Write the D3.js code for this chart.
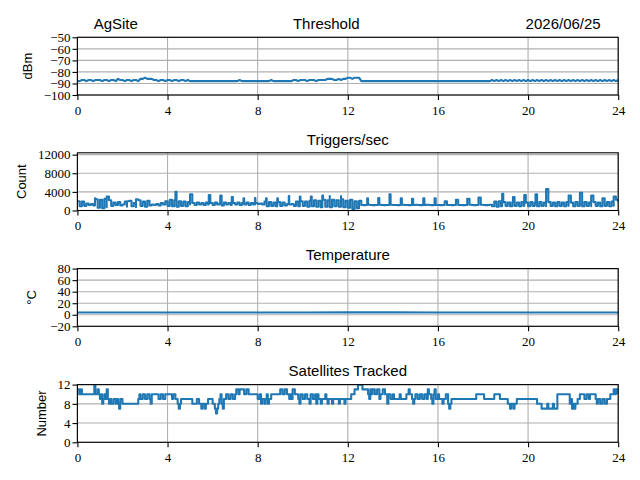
<!DOCTYPE html>
<html>
<head>
<meta charset="utf-8">
<script src="https://cdn.jsdelivr.net/npm/d3@7"></script>
<style>
body { margin: 0; background: #fff; }
</style>
</head>
<body>
<script>
// hour ticks shared by every panel
var hourTicks = [0, 4, 8, 12, 16, 20, 24];

// threshold, one value every 6 min (dBm)
var thrStep = 0.1;
var thrV = [
  -88, -88, -87, -87, -88, -87, -87, -88, -87, -87,
  -87, -88, -87, -87, -88, -87, -87, -88, -86, -87,
  -87, -88, -87, -87, -88, -87, -87, -88, -86, -86,
  -85, -86, -86, -86, -87, -87, -88, -87, -87, -88,
  -87, -87, -88, -87, -87, -88, -87, -87, -88, -87,
  -88, -88, -88, -88, -88, -88, -88, -88, -88, -88,
  -88, -88, -88, -88, -88, -88, -88, -88, -88, -88,
  -88, -88, -87, -88, -88, -88, -88, -88, -88, -88,
  -88, -88, -88, -88, -88, -88, -87, -88, -88, -88,
  -88, -88, -88, -88, -88, -88, -87, -87, -88, -87,
  -87, -87, -88, -87, -87, -87, -88, -87, -87, -87,
  -87, -86, -86, -86, -87, -87, -86, -87, -86, -86,
  -85, -85, -86, -85, -85, -85, -88, -88, -88, -88,
  -88, -88, -88, -88, -88, -88, -88, -88, -88, -88,
  -88, -88, -88, -88, -88, -88, -88, -88, -88, -88,
  -88, -88, -88, -88, -88, -88, -88, -88, -88, -88,
  -88, -88, -88, -88, -88, -88, -88, -88, -88, -88,
  -88, -88, -88, -88, -88, -88, -88, -88, -88, -88,
  -88, -88, -88, -88, -87, -88, -87, -88, -87, -88,
  -87, -88, -87, -88, -87, -88, -87, -88, -87, -88,
  -87, -88, -87, -88, -87, -88, -87, -88, -87, -88,
  -87, -88, -87, -88, -87, -88, -87, -88, -87, -88,
  -87, -88, -87, -88, -87, -88, -87, -88, -87, -88,
  -87, -88, -87, -88, -87, -88, -87, -88, -87, -88,
  -87
];
var thrTicks = [-100, -90, -80, -70, -60, -50];

// triggers per second, one value every 6 min
var trigStep = 0.1;
var trigV = [
  2000, 900, 1900, 1000, 1500, 1200, 1400, 1100, 2400, 600,
  2300, 500, 2500, 700, 2200, 1000, 1700, 1200, 1800, 1100,
  1300, 1900, 800, 2100, 900, 1600, 700, 2200, 1000, 1900,
  800, 2100, 1100, 1300, 1200, 1400, 1100, 1600, 1300, 2000,
  1000, 2300, 900, 2200, 800, 2000, 1000, 1900, 900, 1800,
  1300, 1600, 1200, 1700, 1300, 1600, 1200, 1700, 1300, 1600,
  1200, 1700, 1300, 1500, 1100, 1700, 1300, 1600, 1200, 1600,
  1300, 1700, 1200, 1600, 1300, 1700, 1200, 1600, 1300, 1600,
  1400, 1500, 1300, 1900, 900, 1800, 1000, 1700, 900, 1800,
  1000, 1700, 1100, 1400, 1300, 1400, 1000, 1900, 900, 2000,
  1000, 1900, 800, 2100, 900, 2200, 800, 2100, 700, 2300,
  800, 2200, 700, 2300, 900, 2200, 800, 2400, 700, 2100,
  600, 2300, 300, 2000, 500, 2100, 1200, 1150, 1200, 1250,
  1200, 1150, 1200, 1200, 1250, 1200, 1150, 1200, 1200, 1250,
  1200, 1200, 1150, 1200, 1250, 1200, 1200, 1150, 1200, 1200,
  1250, 1200, 1150, 1200, 1200, 1250, 1200, 1150, 1200, 1200,
  1200, 1150, 1200, 1250, 1200, 1200, 1150, 1200, 1250, 1200,
  1200, 1150, 1200, 1200, 1250, 1200, 1150, 1200, 1200, 1250,
  1200, 1150, 1200, 1250, 900, 1900, 800, 2000, 900, 1800,
  1000, 1700, 900, 1800, 1000, 1700, 900, 1800, 1000, 1700,
  900, 1800, 1000, 1700, 900, 1800, 1000, 1700, 900, 1800,
  1000, 1700, 900, 1800, 1000, 1700, 900, 1800, 1000, 1700,
  900, 1800, 1000, 1700, 900, 1800, 1000, 1700, 900, 1800,
  1000, 1700, 900, 1800, 1000, 1800, 900, 1900, 1000, 2300,
  1800
];
// short bursts on top of the trigger rate
var spikeT = [0.78, 1.3, 2.2, 2.6, 4.35, 5.0, 5.83, 6.34, 6.85, 7.37, 7.88, 8.37, 8.87, 9.38,
  9.87, 10.36, 10.87, 11.2, 11.7, 12.86, 13.35, 13.85, 14.35, 14.85, 15.35, 15.85, 16.3,
  16.8, 17.3, 17.8, 18.85, 19.33, 19.83, 20.33, 20.8, 21.8, 22.3, 22.8, 23.3, 23.8];
var spikeV = [2600, 3000, 2000, 2400, 4000, 3500, 3300, 3200, 2900, 2600, 2700, 2600, 2600, 3100,
  3000, 3000, 3200, 3100, 3100, 2600, 2700, 3500, 2600, 2500, 2600, 2600, 2000,
  2300, 2500, 2800, 3600, 2900, 3300, 3500, 4600, 3200, 3800, 3200, 2600, 3000];
var trigTicks = [0, 4000, 8000, 12000];

// temperature, every 2 hours
var tempT = [0, 2, 4, 6, 8, 10, 12, 14, 16, 18, 20, 22, 24];
var tempV = [4, 4, 4, 3.9, 3.9, 4, 4.1, 4.1, 4, 4, 3.9, 4, 4];
var tempTicks = [-20, 0, 20, 40, 60, 80];

// satellites tracked, value holds from each time until the next
var satT = [0, 0.08, 0.15, 0.2, 0.75, 0.8, 0.9, 0.95, 1.0, 1.05, 1.1, 1.15, 1.2, 1.25, 1.3, 1.35,
  1.4, 1.45, 1.5, 1.6, 1.7, 1.75, 1.8, 1.85, 1.9, 2.0, 2.7, 2.75, 2.8, 2.9, 3.0, 3.1, 3.2,
  3.25, 3.3, 3.6, 3.7, 3.8, 3.9, 4.2, 4.25, 4.35, 4.45, 4.5, 4.55, 4.6, 5.1, 5.3, 5.4, 5.5,
  5.55, 5.65, 5.7, 5.8, 6.0, 6.1, 6.15, 6.2, 6.25, 6.3, 6.35, 6.4, 6.45, 6.5, 6.6, 6.7, 6.8,
  6.9, 7.0, 7.05, 7.15, 7.2, 7.4, 7.5, 7.6, 8.0, 8.1, 8.15, 8.2, 8.3, 8.35, 8.4, 8.45, 8.5,
  8.6, 9.0, 9.1, 9.2, 9.3, 9.4, 9.45, 9.5, 9.55, 9.65, 9.8, 9.85, 9.9, 10.0, 10.1, 10.2,
  10.3, 10.35, 10.45, 10.55, 10.6, 10.65, 10.7, 10.8, 10.85, 11.0, 11.05, 11.1, 11.15,
  11.3, 11.35, 11.6, 11.65, 11.85, 11.9, 12.15, 12.3, 12.45, 12.65, 12.9, 12.95, 13.0,
  13.05, 13.1, 13.2, 13.3, 13.4, 13.45, 13.55, 13.65, 13.75, 13.8, 13.9, 14.0, 14.05,
  14.3, 14.35, 14.6, 14.7, 14.75, 14.85, 14.9, 14.95, 15.0, 15.1, 15.2, 15.3, 15.4, 15.5,
  15.55, 15.6, 15.7, 15.75, 15.8, 15.85, 15.9, 16.0, 16.05, 16.2, 16.25, 16.35, 16.45,
  16.5, 16.55, 16.6, 17.7, 18.05, 18.5, 18.75, 19.1, 19.2, 19.25, 19.35, 19.4, 19.5,
  20.4, 20.6, 20.85, 20.9, 21.1, 21.15, 21.3, 21.85, 21.9, 21.95, 22.0, 22.05, 22.1,
  22.2, 22.3, 22.5, 22.6, 22.7, 22.75, 23.0, 23.05, 23.1, 23.2, 23.3, 23.4, 23.5, 23.65,
  23.8, 23.85, 23.9, 24.0];
var satV = [11, 10, 11, 10, 12, 10, 11, 10, 9, 10, 8, 9, 10, 9, 11, 9,
  8, 9, 8, 9, 8, 9, 8, 7, 9, 8, 9, 10, 9, 10, 9, 10, 9,
  8, 10, 9, 10, 9, 10, 9, 10, 9, 8, 7, 8, 9, 8, 9, 8, 7,
  8, 7, 8, 9, 8, 7, 6, 7, 8, 9, 10, 8, 7, 9, 10, 9, 10,
  9, 10, 11, 10, 11, 10, 11, 10, 9, 10, 8, 9, 8, 9, 10, 8, 9,
  10, 11, 10, 11, 10, 9, 10, 9, 11, 10, 9, 8, 10, 9, 10, 9,
  8, 10, 9, 10, 8, 10, 9, 8, 9, 10, 9, 8, 9,
  8, 9, 8, 9, 8, 9, 10, 11, 12, 11, 10, 9, 11,
  10, 11, 10, 11, 9, 10, 11, 10, 8, 10, 9, 10, 9,
  10, 9, 10, 11, 10, 9, 8, 9, 10, 9, 10, 9, 10, 9,
  11, 10, 9, 8, 10, 11, 9, 10, 9, 8, 9, 10, 8,
  7, 8, 9, 10, 9, 10, 9, 8, 7, 8, 7, 8, 9,
  8, 7, 8, 7, 8, 7, 10, 8, 9, 7, 8, 7, 8,
  9, 10, 9, 10, 9, 10, 9, 8, 9, 8, 9, 8, 9, 10,
  11, 10, 11, 10];
var satTicks = [0, 4, 8, 12];

var W = 640, H = 480;
var left = 77.4, right = 618.2, panelH = 57.7;
var tickFont = "'Liberation Serif', 'Times New Roman', serif";
var sansFont = "'Liberation Sans', Arial, sans-serif";
var blue = "#1f77b4";

var svg = d3.select("body").append("svg").attr("width", W).attr("height", H);

var x = d3.scaleLinear().domain([0, 24]).range([left, right]);
var fmt = d3.format("d");

function panel(id, top, yDomain, yTicks, title, ylabel, ylabelX, pts, curve) {
  var y = d3.scaleLinear().domain(yDomain).range([top + panelH, top]);
  var g = svg.append("g");

  g.append("clipPath").attr("id", "clip" + id)
    .append("rect").attr("x", left).attr("y", top).attr("width", right - left).attr("height", panelH);

  // grid
  g.selectAll(".vg").data(hourTicks).enter().append("line")
    .attr("x1", function(d){ return x(d); }).attr("x2", function(d){ return x(d); })
    .attr("y1", top).attr("y2", top + panelH)
    .attr("stroke", "#b0b0b0").attr("stroke-width", 1.1);
  g.selectAll(".hg").data(yTicks).enter().append("line")
    .attr("x1", left).attr("x2", right)
    .attr("y1", function(d){ return y(d); }).attr("y2", function(d){ return y(d); })
    .attr("stroke", "#b0b0b0").attr("stroke-width", 1.1);

  var line = d3.line()
    .x(function(d){ return x(d.t); })
    .y(function(d){ return y(d.v); })
    .curve(curve || d3.curveLinear);
  g.append("path").datum(pts)
    .attr("clip-path", "url(#clip" + id + ")")
    .attr("d", line)
    .attr("fill", "none").attr("stroke", blue).attr("stroke-width", 2.08)
    .attr("stroke-linejoin", "round");

  var xAxis = d3.axisBottom(x).tickValues(hourTicks).tickFormat(fmt).tickSize(4.9).tickPadding(5.5);
  var yAxis = d3.axisLeft(y).tickValues(yTicks).tickFormat(fmt).tickSize(4.9).tickPadding(2);
  var gx = g.append("g").attr("transform", "translate(0," + (top + panelH) + ")").call(xAxis);
  var gy = g.append("g").attr("transform", "translate(" + left + ",0)").call(yAxis);
  [gx, gy].forEach(function(a){
    a.select(".domain").remove();
    a.selectAll(".tick line").attr("stroke", "#000").attr("stroke-width", 1.1);
    a.selectAll(".tick text").attr("fill", "#000").style("font-family", tickFont).style("font-size", "13px");
  });

  g.append("rect").attr("x", left).attr("y", top).attr("width", right - left).attr("height", panelH)
    .attr("fill", "none").attr("stroke", "#000").attr("stroke-width", 1.1);

  if (title) {
    g.append("text").attr("x", (left + right) / 2).attr("y", top - 8.3)
      .attr("text-anchor", "middle")
      .style("font-family", sansFont).style("font-size", "15px")
      .text(title);
  }
  g.append("text")
    .attr("transform", "translate(" + ylabelX + "," + (top + panelH / 2) + ") rotate(-90)")
    .attr("text-anchor", "middle").attr("dominant-baseline", "central")
    .style("font-family", sansFont).style("font-size", "13px")
    .text(ylabel);
}

// build point lists
var thrPts = thrV.map(function(v, i){ return {t: i * thrStep, v: v}; });
var trigPts = trigV.map(function(v, i){ return {t: i * trigStep, v: v}; })
  .concat(spikeT.map(function(t, i){ return {t: t, v: spikeV[i]}; }))
  .sort(function(a, b){ return a.t - b.t; });
var tempPts = tempT.map(function(t, i){ return {t: t, v: tempV[i]}; });
var satPts = satT.map(function(t, i){ return {t: t, v: satV[i]}; });

panel(1, 37.3, [-100, -50], thrTicks, null, "dBm", 27, thrPts);
panel(2, 152.8, [0, 12400], trigTicks, "Triggers/sec", "Count", 21, trigPts, d3.curveStepAfter);
panel(3, 268.6, [-20, 80], tempTicks, "Temperature", "\u00b0C", 31, tempPts);
panel(4, 384.6, [0, 12], satTicks, "Satellites Tracked", "Number", 41, satPts, d3.curveStepAfter);

// top header: site, panel name, date
var header = svg.append("g").style("font-family", sansFont).style("font-size", "15px");
header.append("text").attr("x", 93.7).attr("y", 29).attr("text-anchor", "start").text("AgSite");
header.append("text").attr("x", 326.3).attr("y", 29).attr("text-anchor", "middle").text("Threshold");
header.append("text").attr("x", 600.7).attr("y", 29).attr("text-anchor", "end").text("2026/06/25");
</script>
</body>
</html>
